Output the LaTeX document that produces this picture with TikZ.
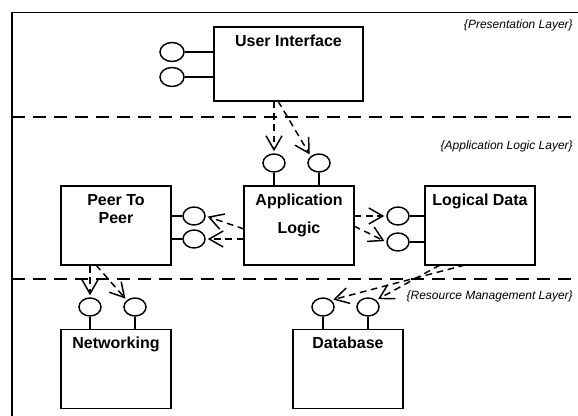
\documentclass[tikz,border=0pt]{standalone}
\usepackage{fontspec}
\setmainfont{Liberation Sans}
\usetikzlibrary{shapes.geometric,arrows.meta}

\begin{document}
\begin{tikzpicture}[x=0.75pt,y=-0.75pt,
    comp/.style={draw,line width=1.1pt,minimum width=82.5pt,minimum height=59.5pt,inner sep=0pt},
    iface/.style={draw,ellipse,line width=1.1pt,minimum width=16.5pt,minimum height=13.5pt,inner sep=0pt},
    title/.style={font=\fontsize{12}{13.5}\selectfont\bfseries,align=center,anchor=north,inner sep=0pt},
    layer/.style={font=\fontsize{9}{11}\selectfont\itshape,anchor=east,inner sep=0pt},
    sep/.style={line width=1.5pt,dash pattern=on 9.75pt off 6pt},
    stem/.style={line width=1.1pt},
    dep/.style={line width=1.1pt,dash pattern=on 5pt off 3.5pt,shorten >=1.5pt,
      -{Straight Barb[length=10.5pt,width=12pt]}}]
  \useasboundingbox (0,0) rectangle (578,416);

  % frame and layers
  \draw[line width=1.1pt] (12,416) -- (12,12.7) -- (578,12.7);
  \draw[sep] (12,117) -- (578,117);
  \draw[sep] (12,279) -- (578,279);
  \node[layer] (pres) at (573,25) {\{Presentation Layer\}};
  \node[layer] (appl) at (573,146) {\{Application Logic Layer\}};
  \node[layer] (resm) at (573,296) {\{Resource Management Layer\}};

  % components
  \node[comp,minimum width=111.75pt,minimum height=55.5pt] (ui) at (288.5,64) {};
  \node[comp] (peer) at (116,225.5) {};
  \node[comp] (al) at (299,225.5) {};
  \node[comp] (ld) at (480,225.5) {};
  \node[comp] (net) at (116,369) {};
  \node[comp] (db) at (348,369) {};

  \node[title] (uit) at (288.5,35) {User Interface};
  \node[title] (peert) at (116,194) {Peer To\\Peer};
  \node[title] (alt) at (299,194) {Application\\[7pt]Logic};
  \node[title] (ldt) at (480,194) {Logical Data};
  \node[title] (nett) at (116,337) {Networking};
  \node[title] (dbt) at (348,337) {Database};

  % interfaces
  \node[iface,minimum width=18pt,minimum height=14.25pt] (ui1) at (172,52) {};
  \node[iface,minimum width=18pt,minimum height=14.25pt] (ui2) at (172,77) {};
  \node[iface] (al1) at (274,163) {};
  \node[iface] (al2) at (319,163) {};
  \node[iface] (peer1) at (194,216) {};
  \node[iface] (peer2) at (194,239) {};
  \node[iface] (ld1) at (398,216) {};
  \node[iface] (ld2) at (398,242) {};
  \node[iface] (net1) at (90,307) {};
  \node[iface] (net2) at (135,307) {};
  \node[iface] (db1) at (323,307) {};
  \node[iface] (db2) at (368,307) {};

  \draw[stem] (ui1) -- (ui1 -| ui.west);
  \draw[stem] (ui2) -- (ui2 -| ui.west);
  \draw[stem] (al1) -- (al1 |- al.north);
  \draw[stem] (al2) -- (al2 |- al.north);
  \draw[stem] (peer1) -- (peer1 -| peer.east);
  \draw[stem] (peer2) -- (peer2 -| peer.east);
  \draw[stem] (ld1) -- (ld1 -| ld.west);
  \draw[stem] (ld2) -- (ld2 -| ld.west);
  \draw[stem] (net1) -- (net1 |- net.north);
  \draw[stem] (net2) -- (net2 |- net.north);
  \draw[stem] (db1) -- (db1 |- db.north);
  \draw[stem] (db2) -- (db2 |- db.north);

  % dependencies
  \coordinate (uiout) at (278,101);
  \coordinate (alout) at (244,229);
  \coordinate (alout2) at (354,226);
  \coordinate (peerout) at (96,265);
  \coordinate (ldout1) at (465,265);
  \coordinate (ldout2) at (440,265);
  \draw[dep] (al1 |- ui.south) -- (al1.north);
  \draw[dep] (uiout) -- (al2.north west);
  \draw[dep] (alout) -- (peer1.east);
  \draw[dep] (peer2 -| al.west) -- (peer2.east);
  \draw[dep] (ld1 -| al.east) -- (ld1.west);
  \draw[dep] (alout2) -- (ld2.west);
  \draw[dep] (net1 |- peer.south) -- (net1.north);
  \draw[dep] (peerout) -- (net2.north west);
  \draw[dep] (ldout1) -- (db1.north east);
  \draw[dep] (ldout2) -- (db2.north east);
\end{tikzpicture}
\end{document}
